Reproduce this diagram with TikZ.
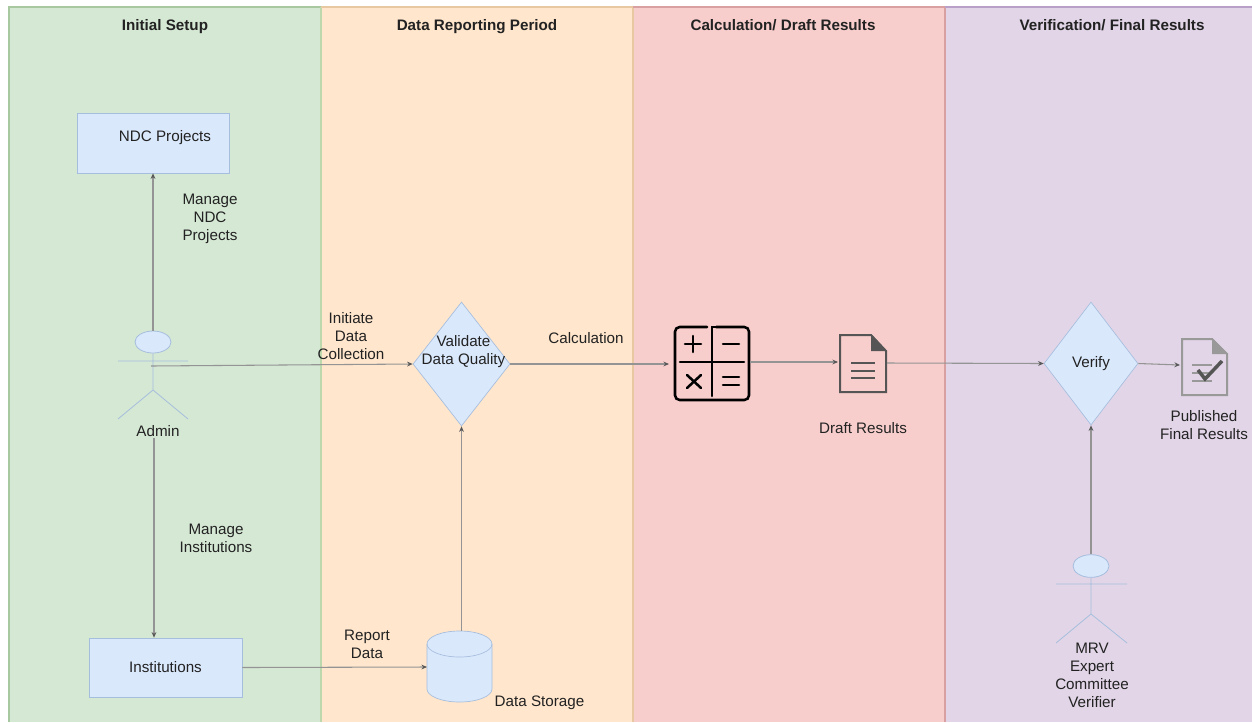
\documentclass[tikz,border=0pt]{standalone}
\usepackage{fontspec}
\setmainfont{Liberation Sans}
\usetikzlibrary{shapes.geometric,arrows.meta}
\definecolor{lgreen}{HTML}{D5E8D4}
\definecolor{lorange}{HTML}{FFE6CC}
\definecolor{lred}{HTML}{F8CECC}
\definecolor{lpurple}{HTML}{E1D5E7}
\definecolor{lblue}{HTML}{DAE8FC}
\definecolor{bblue}{HTML}{A6BEDD}
\definecolor{txt}{HTML}{222222}
\definecolor{docg}{HTML}{555555}
\definecolor{docl}{HTML}{999999}
\definecolor{lgb}{HTML}{A8C8A0}
\definecolor{lgd}{HTML}{BCD8AC}
\definecolor{lob}{HTML}{E8C8A0}
\definecolor{lrb}{HTML}{D8A0A0}
\definecolor{lpb}{HTML}{B8A0C8}
\tikzset{
 x=0.75pt,y=-0.75pt,
 lane/.style={draw=#1,line width=0.8pt},
 head/.style={font=\fontsize{11.4}{13}\selectfont\bfseries,text=txt,inner sep=0pt,anchor=base},
 lab/.style={font=\fontsize{11.4}{13.5}\selectfont,text=txt,inner sep=0pt,align=center},
 box/.style={draw=bblue,fill=lblue,line width=0.5pt,inner sep=0pt},
 dia/.style={diamond,aspect=0.78,box},
 conn/.style={draw=black!42,line width=0.8pt,-{Stealth[length=4.2pt,width=3.6pt,black!65]}},
 act/.style={draw=bblue,line width=0.6pt},
 calcline/.style={line width=1.9pt,black,line cap=round},
}
\begin{document}
\begin{tikzpicture}
\useasboundingbox (0,0) rectangle (1252,722);
\fill[white] (0,0) rectangle (1252,722);
% lanes
\fill[lgreen] (9,7) rectangle (321,722);
\fill[lorange] (321,7) rectangle (633,722);
\fill[lred] (633,7) rectangle (945,722);
\fill[lpurple] (945,7) rectangle (1252,722);
\draw[lane=lgb] (9,722) -- (9,7) -- (321,7);
\draw[lane=lgd] (321,7) -- (321,722);
\draw[lane=lob] (321,7) -- (633,7) -- (633,722);
\draw[lane=lrb] (633,7) -- (945,7) -- (945,722);
\draw[lane=lpb] (945,7) -- (1252,7);
\node[head] (h1) at (165,30) {Initial Setup};
\node[head] (h2) at (477,30) {Data Reporting Period};
\node[head] (h3) at (783,30) {Calculation/ Draft Results};
\node[head] (h4) at (1112,30) {Verification/ Final Results};
% boxes
\node[box,minimum width=114pt,minimum height=45pt] (ndc) at (153,143) {};
\node[lab] (ndct) at (165,138) {NDC Projects};
\node[box,minimum width=114.75pt,minimum height=44.25pt,font=\fontsize{11.4}{13.5}\selectfont,text=txt] (inst) at (165.5,667.5) {Institutions};
% admin
\node[draw=bblue,fill=lblue,ellipse,line width=0.6pt,minimum width=27pt,minimum height=16.5pt,inner sep=0pt] (ahead) at (153,342) {};
\coordinate (ahl) at (118,361);
\coordinate (ahr) at (188,361);
\coordinate (ahip) at (153,390);
\coordinate (afl) at (118,419);
\coordinate (afr) at (188,419);
\draw[act] (ahead.south) -- (ahip) (ahl) -- (ahr) (afl) -- (ahip) -- (afr);
\node[lab] (admin) at (158,431) {Admin};
\coordinate (aright) at (151,366);
\coordinate (abelow) at (154,438);
% validate diamond
\node[dia,minimum width=72.75pt,minimum height=93pt] (val) at (461.5,364) {};
\node[lab] (valt) at (463.5,352) {Validate\\Data Quality};
% storage
\path[box] (427,644) arc[start angle=180,end angle=0,x radius=32.5,y radius=-13] -- (492,689) arc[start angle=0,end angle=-180,x radius=32.5,y radius=-13] -- cycle;
\draw[draw=bblue,line width=0.5pt] (427,644) arc[start angle=180,end angle=360,x radius=32.5,y radius=-13];
\coordinate (dbt) at (461.5,631);
\coordinate (dbl) at (427,667);
\node[lab] (dbtxt) at (539.5,703) {Data Storage};
% calculator
\begin{scope}[calcline]
\draw[rounded corners=3.5pt] (707,327) -- (675,327) -- (675,400) -- (749,400) -- (749,327) -- (716,327);
\draw (716,327) -- (712,327) -- (712,396);
\draw (680,362) -- (744,362);
\draw (693,336) -- (693,352) (685,344) -- (701,344);
\draw (723,344) -- (739,344);
\draw (687,375) -- (701,388) (701,375) -- (687,388);
\draw (723,377) -- (739,377) (723,385) -- (739,385);
\end{scope}
\coordinate (calcl) at (669,364);
\coordinate (calcr) at (750,362);
% draft doc
\path[draw=docg,line width=1.5pt] (840,335) -- (871,335) -- (886,351) -- (886,392) -- (840,392) -- cycle;
\fill[docg] (871,334) -- (887,351) -- (871,351) -- cycle;
\draw[docg,line width=1.5pt] (851,363) -- (875,363) (851,371) -- (875,371) (851,378) -- (875,378);
\coordinate (dl) at (838,362);
\coordinate (dr) at (887,363);
\node[lab] (drafttxt) at (863,428) {Draft Results};
% verify
\node[dia,minimum width=70.5pt,minimum height=92.25pt,font=\fontsize{11.4}{13.5}\selectfont,text=txt] (ver) at (1091,363.5) {Verify};
% published doc
\path[draw=docl,line width=1.5pt] (1182,339) -- (1212,339) -- (1227,354) -- (1227,395) -- (1182,395) -- cycle;
\fill[docl] (1212,338) -- (1228,354) -- (1212,354) -- cycle;
\draw[docl,line width=1.4pt] (1192,365) -- (1212,365) (1192,373) -- (1212,373) (1192,381) -- (1212,381);
\draw[docg,line width=2.6pt] (1198,370) -- (1205,379) -- (1222,361);
\coordinate (pl) at (1180,365);
\node[lab] (pub) at (1204,425) {Published\\Final Results};
% verifier
\node[draw=bblue,fill=lblue,ellipse,line width=0.6pt,minimum width=27pt,minimum height=17pt,inner sep=0pt] (vhead) at (1091,566) {};
\coordinate (vhl) at (1056,584);
\coordinate (vhr) at (1127,584);
\coordinate (vhip) at (1091,614);
\coordinate (vfl) at (1056,643);
\coordinate (vfr) at (1127,643);
\draw[act] (vhead.south) -- (vhip) (vhl) -- (vhr) (vfl) -- (vhip) -- (vfr);
\node[lab] (mrv) at (1092,675) {MRV\\Expert\\Committee\\Verifier};
% connectors
\draw[conn] (ahead.north) -- (ndc.south);
\draw[conn] (aright) -- (val.west);
\draw[conn] (abelow) -- (abelow |- inst.north);
\draw[conn] (inst.east) -- (dbl);
\draw[conn] (dbt) -- (val.south);
\draw[conn] (val.east) -- (calcl);
\draw[conn] (calcr) -- (dl);
\draw[conn] (dr) -- (ver.west);
\draw[conn] (ver.east) -- (pl);
\draw[conn] (vhead.north) -- (ver.south);
% labels
\node[lab] (l1) at (210,219) {Manage\\NDC\\Projects};
\node[lab] (l2) at (351,336) {Initiate\\Data\\Collection};
\node[lab] (l3) at (216,538) {Manage\\Institutions};
\node[lab] (l4) at (367,644) {Report\\Data};
\node[lab] (l5) at (586,338) {Calculation};
\end{tikzpicture}
\end{document}
